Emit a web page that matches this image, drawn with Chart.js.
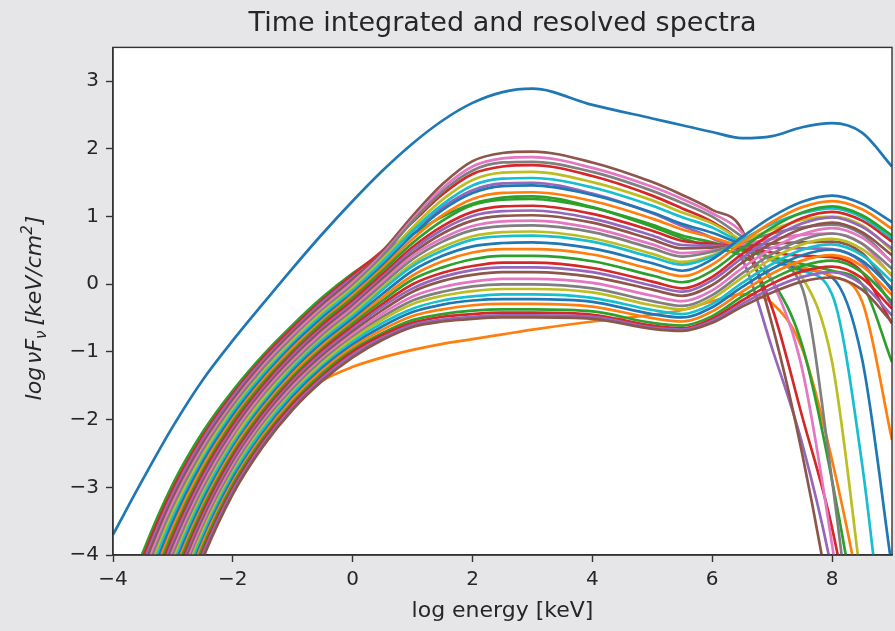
<!DOCTYPE html>
<html>
<head>
<meta charset="utf-8">
<title>Time integrated and resolved spectra</title>
<script src="https://cdn.jsdelivr.net/npm/chart.js@4.4.0/dist/chart.umd.min.js"></script>
<style>
  html, body { margin: 0; padding: 0; background: #e6e6e8; }
  #wrap { width: 895px; height: 631px; }
</style>
</head>
<body>
<div id="wrap"><canvas id="grafica" width="895" height="631"></canvas></div>
<script>
// x grid shared by every curve (log energy, keV)
const logEnergy = [-4, -3.5, -3, -2.5, -2, -1.5, -1, -0.5, 0, 0.5, 1, 1.5, 2, 2.5, 3, 4, 5, 5.5, 6, 6.5, 7, 7.5, 8, 8.5, 9];

// time integrated spectrum
const integratedFlux = [-3.70, -2.88, -2.10, -1.41, -0.83, -0.29, 0.24, 0.75, 1.23, 1.68, 2.08, 2.42, 2.68, 2.84, 2.89, 2.65, 2.45, 2.35, 2.25, 2.16, 2.19, 2.32, 2.38, 2.24, 1.74];

// first time bin (the odd orange one)
const firstBinFlux = [-6.5, -5.6, -4.6, -3.75, -2.98, -2.25, -1.75, -1.42, -1.22, -1.08, -0.97, -0.88, -0.81, -0.74, -0.67, -0.55, -0.45, -0.38, -0.25, -0.15, -0.28, -0.95, -2.6, -4.8, -8];

// following time bins, one row per bin
const resolvedFlux = [
  [-5.20, -3.96, -2.95, -2.18, -1.57, -1.05, -0.60, -0.19, 0.16, 0.46, 0.74, 1.00, 1.19, 1.28, 1.30, 1.14, 0.85, 0.68, 0.55, 0.42, 0.05, -0.9, -2.9, -5.5, -9],
  [-5.29, -4.04, -3.02, -2.24, -1.62, -1.09, -0.64, -0.23, 0.14, 0.50, 0.92, 1.33, 1.63, 1.74, 1.76, 1.60, 1.31, 1.12, 0.92, 0.57, -0.35, -1.95, -3.6, -6, -9],
  [-5.38, -4.13, -3.09, -2.29, -1.66, -1.13, -0.68, -0.26, 0.10, 0.43, 0.79, 1.14, 1.39, 1.49, 1.50, 1.34, 1.05, 0.86, 0.68, 0.37, -0.95, -2.35, -4.25, -7, -10],
  [-5.47, -4.21, -3.16, -2.35, -1.71, -1.17, -0.71, -0.30, 0.07, 0.49, 1.01, 1.48, 1.82, 1.94, 1.96, 1.80, 1.51, 1.32, 1.10, 0.80, -0.6, -2.5, -4.9, -8, -11],
  [-5.56, -4.30, -3.23, -2.41, -1.76, -1.21, -0.75, -0.34, 0.03, 0.45, 0.96, 1.42, 1.74, 1.86, 1.88, 1.72, 1.44, 1.26, 1.05, 0.76, 0.05, -1.25, -3.85, -7, -10],
  [-5.65, -4.38, -3.30, -2.46, -1.80, -1.25, -0.79, -0.38, -0.01, 0.42, 0.93, 1.37, 1.68, 1.80, 1.81, 1.66, 1.38, 1.20, 1.00, 0.70, 0.35, -0.05, -2.9, -6.5, -10],
  [-5.74, -4.47, -3.37, -2.52, -1.85, -1.30, -0.83, -0.41, -0.05, 0.37, 0.84, 1.25, 1.54, 1.65, 1.66, 1.51, 1.24, 1.06, 0.90, 0.64, 0.35, 0.10, -1.15, -4.5, -8],
  [-5.83, -4.55, -3.44, -2.58, -1.89, -1.34, -0.87, -0.45, -0.09, 0.33, 0.79, 1.18, 1.46, 1.56, 1.57, 1.43, 1.16, 0.99, 0.84, 0.60, 0.35, 0.20, -0.15, -2.65, -6.5],
  [-5.92, -4.64, -3.51, -2.63, -1.94, -1.38, -0.90, -0.49, -0.13, 0.28, 0.73, 1.10, 1.35, 1.45, 1.46, 1.32, 1.06, 0.89, 0.76, 0.58, 0.38, 0.22, 0.10, -1.1, -4.2],
  [-6.01, -4.72, -3.59, -2.69, -1.99, -1.42, -0.94, -0.53, -0.16, 0.24, 0.67, 1.02, 1.26, 1.35, 1.36, 1.23, 0.97, 0.81, 0.69, 0.55, 0.38, 0.25, 0.12, -0.25, -2.3],
  [-6.10, -4.81, -3.66, -2.75, -2.03, -1.46, -0.98, -0.56, -0.20, 0.20, 0.61, 0.94, 1.17, 1.25, 1.26, 1.13, 0.88, 0.72, 0.62, 0.50, 0.40, 0.30, 0.20, 0.0, -1.15],
  [-6.19, -4.89, -3.73, -2.80, -2.08, -1.50, -1.02, -0.60, -0.24, 0.15, 0.55, 0.86, 1.07, 1.15, 1.16, 1.04, 0.79, 0.64, 0.60, 0.53, 0.47, 0.42, 0.40, 0.18, -0.58],
  [-6.28, -4.97, -3.80, -2.86, -2.13, -1.54, -1.05, -0.64, -0.28, 0.11, 0.51, 0.81, 1.01, 1.08, 1.09, 0.97, 0.72, 0.58, 0.57, 0.55, 0.54, 0.53, 0.52, 0.32, -0.31],
  [-6.37, -5.06, -3.87, -2.92, -2.17, -1.58, -1.09, -0.67, -0.32, 0.08, 0.46, 0.75, 0.94, 1.01, 1.02, 0.91, 0.66, 0.53, 0.54, 0.57, 0.60, 0.62, 0.63, 0.46, -0.09],
  [-6.46, -5.14, -3.94, -2.97, -2.22, -1.62, -1.13, -0.71, -0.35, 0.04, 0.42, 0.68, 0.86, 0.93, 0.94, 0.83, 0.59, 0.46, 0.50, 0.59, 0.67, 0.73, 0.75, 0.60, 0.12],
  [-6.55, -5.23, -4.01, -3.03, -2.27, -1.66, -1.17, -0.75, -0.39, 0.00, 0.37, 0.63, 0.80, 0.86, 0.87, 0.77, 0.53, 0.41, 0.48, 0.62, 0.75, 0.84, 0.88, 0.74, 0.32],
  [-6.64, -5.31, -4.08, -3.09, -2.31, -1.70, -1.21, -0.79, -0.43, -0.05, 0.31, 0.55, 0.71, 0.77, 0.78, 0.68, 0.45, 0.33, 0.43, 0.63, 0.81, 0.95, 1.00, 0.87, 0.50],
  [-6.73, -5.40, -4.15, -3.14, -2.36, -1.75, -1.24, -0.82, -0.47, -0.08, 0.27, 0.50, 0.66, 0.71, 0.72, 0.63, 0.40, 0.29, 0.41, 0.66, 0.89, 1.05, 1.12, 0.99, 0.67],
  [-6.82, -5.48, -4.22, -3.20, -2.41, -1.79, -1.28, -0.86, -0.51, -0.14, 0.20, 0.42, 0.56, 0.61, 0.62, 0.53, 0.31, 0.20, 0.37, 0.70, 1.00, 1.22, 1.31, 1.19, 0.92],
  [-6.91, -5.57, -4.29, -3.26, -2.45, -1.83, -1.32, -0.90, -0.55, -0.19, 0.13, 0.34, 0.47, 0.52, 0.52, 0.44, 0.22, 0.12, 0.29, 0.62, 0.92, 1.14, 1.23, 1.11, 0.82],
  [-7.00, -5.65, -4.36, -3.31, -2.50, -1.87, -1.36, -0.94, -0.58, -0.24, 0.07, 0.25, 0.37, 0.42, 0.42, 0.34, 0.13, 0.03, 0.20, 0.53, 0.84, 1.06, 1.15, 1.02, 0.72],
  [-7.09, -5.73, -4.43, -3.37, -2.54, -1.91, -1.40, -0.97, -0.62, -0.29, 0.00, 0.17, 0.27, 0.32, 0.32, 0.24, 0.04, -0.06, 0.11, 0.45, 0.75, 0.98, 1.07, 0.94, 0.63],
  [-7.18, -5.82, -4.50, -3.43, -2.59, -1.95, -1.43, -1.01, -0.66, -0.33, -0.06, 0.11, 0.21, 0.25, 0.25, 0.18, -0.02, -0.11, 0.06, 0.39, 0.68, 0.90, 0.99, 0.85, 0.53],
  [-7.27, -5.90, -4.57, -3.48, -2.64, -1.99, -1.47, -1.05, -0.70, -0.38, -0.11, 0.05, 0.14, 0.18, 0.18, 0.11, -0.08, -0.17, -0.01, 0.32, 0.61, 0.82, 0.91, 0.77, 0.43],
  [-7.36, -5.99, -4.64, -3.54, -2.68, -2.03, -1.51, -1.09, -0.74, -0.43, -0.18, -0.04, 0.04, 0.08, 0.08, 0.02, -0.17, -0.25, -0.09, 0.24, 0.53, 0.74, 0.83, 0.69, 0.33],
  [-7.45, -6.07, -4.72, -3.60, -2.73, -2.07, -1.55, -1.12, -0.78, -0.48, -0.24, -0.11, -0.03, 0.00, 0.00, -0.06, -0.25, -0.32, -0.16, 0.16, 0.45, 0.66, 0.75, 0.60, 0.23],
  [-7.54, -6.16, -4.79, -3.65, -2.78, -2.11, -1.59, -1.16, -0.81, -0.52, -0.29, -0.17, -0.10, -0.07, -0.07, -0.12, -0.31, -0.37, -0.21, 0.10, 0.38, 0.59, 0.67, 0.52, 0.14],
  [-7.63, -6.24, -4.86, -3.71, -2.82, -2.15, -1.62, -1.20, -0.85, -0.57, -0.36, -0.24, -0.18, -0.15, -0.15, -0.20, -0.38, -0.44, -0.29, 0.02, 0.30, 0.51, 0.59, 0.43, 0.04],
  [-7.72, -6.33, -4.93, -3.77, -2.87, -2.20, -1.66, -1.23, -0.89, -0.62, -0.41, -0.30, -0.24, -0.22, -0.22, -0.26, -0.44, -0.49, -0.34, -0.04, 0.23, 0.43, 0.51, 0.35, -0.06],
  [-7.81, -6.41, -5.00, -3.82, -2.92, -2.24, -1.70, -1.27, -0.93, -0.67, -0.47, -0.37, -0.31, -0.29, -0.29, -0.33, -0.50, -0.55, -0.40, -0.11, 0.16, 0.35, 0.43, 0.27, -0.16],
  [-7.90, -6.50, -5.07, -3.88, -2.96, -2.28, -1.74, -1.31, -0.97, -0.72, -0.53, -0.44, -0.39, -0.37, -0.37, -0.40, -0.57, -0.61, -0.47, -0.18, 0.08, 0.27, 0.35, 0.18, -0.26],
  [-7.99, -6.58, -5.14, -3.94, -3.01, -2.32, -1.77, -1.35, -1.00, -0.75, -0.57, -0.48, -0.44, -0.42, -0.42, -0.45, -0.61, -0.65, -0.51, -0.24, 0.01, 0.19, 0.26, 0.09, -0.36],
  [-8.08, -6.66, -5.21, -3.99, -3.05, -2.36, -1.81, -1.38, -1.04, -0.79, -0.60, -0.52, -0.48, -0.46, -0.46, -0.48, -0.64, -0.67, -0.54, -0.29, -0.06, 0.11, 0.18, 0.00, -0.46],
  [-8.17, -6.75, -5.28, -4.05, -3.10, -2.40, -1.85, -1.42, -1.08, -0.82, -0.63, -0.55, -0.51, -0.49, -0.49, -0.51, -0.66, -0.69, -0.57, -0.33, -0.12, 0.04, 0.10, -0.08, -0.56]
];

// matplotlib default colour cycle
const tab10 = ['#1f77b4', '#ff7f0e', '#2ca02c', '#d62728', '#9467bd',
               '#8c564b', '#e377c2', '#7f7f7f', '#bcbd22', '#17becf'];

const FONT = '"DejaVu Sans", "Liberation Sans", sans-serif';
const INK = '#262626';
const AXIS = '#333333';

Chart.defaults.font.family = FONT;
Chart.defaults.color = INK;

function makeSet(values, i) {
    return {
        data: values.map(function (y, j) { return {x: logEnergy[j], y: y}; }),
        borderColor: tab10[i % 10],
        borderWidth: 2.7,
        pointRadius: 0,
        fill: false,
        cubicInterpolationMode: 'monotone',
        clip: 0,
        order: 100 - i   // later curves on top, like matplotlib
    };
}

const datasets = [makeSet(integratedFlux, 0), makeSet(firstBinFlux, 1)];
resolvedFlux.forEach(function (row, i) { datasets.push(makeSet(row, i + 2)); });

function minusSign(value) {
    return String(value).replace('-', '\u2212');
}

// grey figure, white axes box, the box frame and the y label
const framePlugin = {
    id: 'frame',
    beforeDraw: function (chart) {
        const ctx = chart.ctx, a = chart.chartArea;
        ctx.save();
        ctx.fillStyle = '#e6e6e8';
        ctx.fillRect(0, 0, chart.width, chart.height);
        ctx.fillStyle = '#ffffff';
        ctx.fillRect(a.left, a.top, a.right - a.left, a.bottom - a.top);
        ctx.restore();
    },
    afterDraw: function (chart) {
        const ctx = chart.ctx, a = chart.chartArea;
        ctx.save();
        ctx.strokeStyle = AXIS;
        ctx.lineWidth = 1.4;
        ctx.strokeRect(a.left, a.top, a.right - a.left, a.bottom - a.top);
        ctx.restore();

        const parts = [
            {t: 'log', size: 22, dy: 0, gap: 3},
            {t: 'νF', size: 22, dy: 0, gap: 0},
            {t: 'ν', size: 15, dy: 5, gap: 5},
            {t: '[keV/cm', size: 22, dy: 0, gap: 0},
            {t: '2', size: 15, dy: -9, gap: 1},
            {t: ']', size: 22, dy: 0, gap: 0}
        ];
        ctx.save();
        ctx.fillStyle = INK;
        ctx.textBaseline = 'alphabetic';
        let total = 0;
        parts.forEach(function (p) {
            ctx.font = 'italic ' + p.size + 'px ' + FONT;
            p.w = ctx.measureText(p.t).width;
            total += p.w + p.gap;
        });
        ctx.translate(41, 308);
        ctx.rotate(-Math.PI / 2);
        let x = -total / 2;
        parts.forEach(function (p) {
            ctx.font = 'italic ' + p.size + 'px ' + FONT;
            ctx.fillText(p.t, x, p.dy);
            x += p.w + p.gap;
        });
        ctx.restore();
    }
};

const axisGrid = {drawOnChartArea: false, drawTicks: true, tickLength: 7, tickWidth: 1.4, tickColor: AXIS, color: AXIS};
const axisBorder = {display: true, color: AXIS, width: 1.4};

const ctx = document.getElementById('grafica');
const mychart = new Chart(ctx, {
    type: 'line',
    data: {datasets: datasets},
    options: {
        responsive: false,
        devicePixelRatio: 1,
        animation: false,
        events: [],
        layout: {padding: {left: 0, right: 3, top: 0, bottom: 0}},
        plugins: {
            legend: {display: false},
            tooltip: {enabled: false},
            title: {
                display: true,
                text: 'Time integrated and resolved spectra',
                fullSize: false,
                color: INK,
                font: {size: 27, weight: 'normal', lineHeight: 1.2},
                padding: {top: 8, bottom: 7}
            }
        },
        scales: {
            x: {
                type: 'linear',
                min: -4,
                max: 9,
                afterFit: function (s) { s.height = 76; },
                ticks: {stepSize: 2, includeBounds: false, autoSkip: false, maxRotation: 0,
                        padding: 6, font: {size: 20}, color: INK, callback: minusSign},
                grid: axisGrid,
                border: axisBorder,
                title: {display: true, text: 'log energy [keV]', color: INK,
                        font: {size: 22, lineHeight: 1.2}, padding: {top: 0, bottom: 7}}
            },
            y: {
                type: 'linear',
                min: -4,
                max: 3.5,
                afterFit: function (s) { s.width = 113; },
                ticks: {stepSize: 1, includeBounds: false, autoSkip: false,
                        padding: 7, font: {size: 20}, color: INK, callback: minusSign},
                grid: axisGrid,
                border: axisBorder
            }
        }
    },
    plugins: [framePlugin]
});
</script>
</body>
</html>
